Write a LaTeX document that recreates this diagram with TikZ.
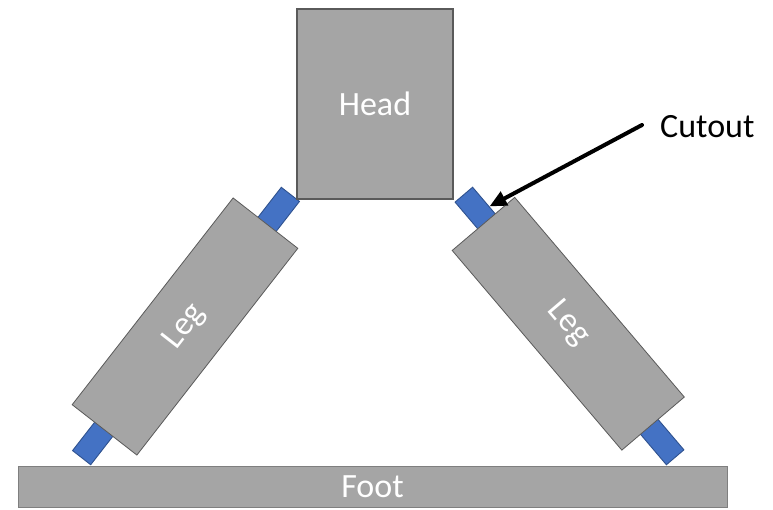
\documentclass[tikz,border=0pt]{standalone}
\usepackage{fontspec}
\setmainfont{Carlito}
\usetikzlibrary{arrows.meta}
\definecolor{shapegray}{HTML}{A5A5A5}
\definecolor{edgegray}{HTML}{5A5A5A}
\definecolor{footedge}{HTML}{7F7F7F}
\definecolor{cutblue}{HTML}{4472C4}
\definecolor{cutedge}{HTML}{2F528F}
\begin{document}
\begin{tikzpicture}[x=1pt,y=1pt,
  part/.style={draw=edgegray, fill=shapegray, line width=0.8pt, inner sep=0pt,
    font=\fontsize{34}{40}\selectfont, text=white},
  cutpart/.style={draw=cutedge, fill=cutblue, line width=0.9pt, inner sep=0pt,
    minimum height=23},
  label/.style={font=\fontsize{34}{40}\selectfont, text=black, inner sep=0pt},
  pointer/.style={line width=4pt, line cap=round, -{Triangle[length=17pt,width=15pt]}}]
\useasboundingbox (0,0) rectangle (773,-509);
% left leg
\begin{scope}[shift={(185,-326.5)}, rotate=52.1, transform shape]
  \node[cutpart, minimum width=48] (cutLT) at (145,-2) {};
  \node[cutpart, minimum width=46] (cutLB) at (-144,1) {};
  \node[part, minimum width=262, minimum height=82] (legL) at (0,0) {Leg};
\end{scope}
% right leg
\begin{scope}[shift={(568.25,-323.75)}, rotate=-49.65, transform shape]
  \node[cutpart, minimum width=46] (cutRT) at (-143,4) {};
  \node[cutpart, minimum width=50] (cutRB) at (146,-5) {};
  \node[part, minimum width=262, minimum height=82] (legR) at (0,0) {Leg};
\end{scope}
% head
\node[part, minimum width=156, minimum height=190, line width=1.8pt] (head) at (375,-104) {Head};
% foot
\node[part, draw=footedge, minimum width=709, minimum height=41] (foot) at (372.5,-486.5) {Foot};
% label and pointer
\node[label, anchor=base west] (cutlabel) at (660,-137) {Cutout};
\coordinate (arrowstart) at (642,-125);
\draw[pointer] (arrowstart) -- (cutRT);
\end{tikzpicture}
\end{document}
